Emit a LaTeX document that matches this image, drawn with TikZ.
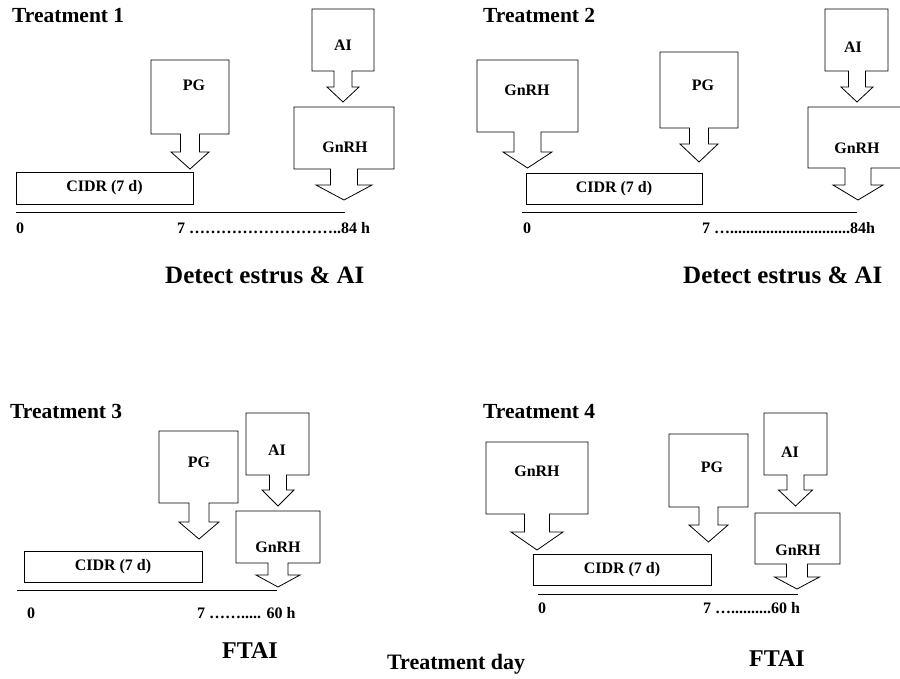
\documentclass[tikz,border=0pt]{standalone}
\usepackage{fontspec}
\setmainfont{Liberation Serif}
\newcommand\dosebox[9]{% cx, left, right, top, bottom, shaft half, head half, shaft bottom, tip
  \draw[outl] (#2,#4) -- (#3,#4) -- (#3,#5) -- ({#1+#6},#5) -- ({#1+#6},#8) -- ({#1+#7},#8) -- (#1,#9)
    -- ({#1-#7},#8) -- ({#1-#6},#8) -- ({#1-#6},#5) -- (#2,#5) -- cycle;}
\tikzset{
  outl/.style={draw=black, line width=0.8pt, line join=miter},
  lbl/.style={font=\fontsize{16}{18}\selectfont\bfseries, inner sep=0pt},
  cidr/.style={draw=black, line width=0.8pt, font=\fontsize{16}{18}\selectfont\bfseries, inner sep=0pt},
  ttl/.style={font=\fontsize{21.5}{23}\selectfont\bfseries, anchor=base west, inner sep=0pt},
  tck/.style={font=\fontsize{16}{18}\selectfont\bfseries, anchor=base west, inner sep=0pt},
  big/.style={font=\fontsize{25}{28}\selectfont\bfseries, anchor=base west, inner sep=0pt},
  tline/.style={draw=black, line width=0.9pt}
}
\begin{document}
\begin{tikzpicture}[x=1pt,y=-1pt]
\useasboundingbox (0,0) rectangle (900,678);
\clip (0,0) rectangle (900,678);
\fill[white] (0,0) rectangle (900,678);

% ---------------- Treatment 1 ----------------
\node[ttl] (t1) at (12,22) {Treatment 1};
\dosebox{190}{151}{229}{60}{134}{9.5}{19}{152}{169}
\node[lbl] (t1pg) at (194,85) {PG};
\dosebox{343}{312}{374}{9}{71}{9}{16}{87}{102}
\node[lbl] (t1ai) at (343,45) {AI};
\dosebox{344}{294}{394}{107}{169}{13.5}{28}{185}{200}
\node[lbl] (t1gn) at (345,147) {GnRH};
\node[cidr, minimum width=177pt, minimum height=32pt] (t1c) at (104.5,188) {CIDR (7 d)};
\coordinate (t1a) at (16,212); \coordinate (t1b) at (345,212);
\draw[tline] (t1a) -- (t1b);
\node[tck] (t1z) at (16,233) {0};
\node[tck] (t1s) at (177,233) {7 ………………………..84 h};
\node[big] (t1d) at (165,283) {Detect estrus \& AI};

% ---------------- Treatment 2 ----------------
\node[ttl] (t2) at (483,22) {Treatment 2};
\dosebox{527.5}{477}{578}{60}{132}{13.5}{24.5}{152}{168}
\node[lbl] (t2g1) at (527,90) {GnRH};
\node[cidr, minimum width=176pt, minimum height=31pt] (t2c) at (614,188.5) {CIDR (7 d)};
\dosebox{699}{660}{738}{52}{128}{9.5}{19}{144}{162}
\node[lbl] (t2pg) at (703,85) {PG};
\dosebox{857}{825}{888}{9}{71}{8.5}{16}{87}{102}
\node[lbl] (t2ai) at (853,47) {AI};
\dosebox{858}{808}{908}{107}{168}{13}{25}{185}{200}
\node[lbl] (t2g2) at (857,148) {GnRH};
\coordinate (t2a) at (522,212); \coordinate (t2b) at (857,212);
\draw[tline] (t2a) -- (t2b);
\node[tck] (t2z) at (523,233) {0};
\node[tck] (t2s) at (702,233) {7 …..............................84h};
\node[big] (t2d) at (683,283) {Detect estrus \& AI};

% ---------------- Treatment 3 ----------------
\node[ttl] (t3) at (10,418) {Treatment 3};
\dosebox{199}{159}{238}{431}{503}{10}{20}{522}{539}
\node[lbl] (t3pg) at (199,462) {PG};
\dosebox{278}{246}{309}{413}{475}{8.5}{16}{490}{506}
\node[lbl] (t3ai) at (277,450) {AI};
\dosebox{278}{236}{320}{511}{563}{10}{22}{575}{587}
\node[lbl] (t3gn) at (278,547) {GnRH};
\node[cidr, minimum width=178pt, minimum height=31pt] (t3c) at (113,566.5) {CIDR (7 d)};
\coordinate (t3a) at (17,590); \coordinate (t3b) at (277,590);
\draw[tline] (t3a) -- (t3b);
\node[tck] (t3z) at (27,618) {0};
\node[tck] (t3s) at (197,618) {7 ……..... 60 h};
\node[big, font=\fontsize{24}{26}\selectfont\bfseries] (t3f) at (222,658) {FTAI};

% ---------------- Treatment 4 ----------------
\node[ttl] (t4) at (483,418) {Treatment 4};
\dosebox{537}{486}{588}{442}{514}{12.5}{26}{532}{550}
\node[lbl] (t4g1) at (537,471) {GnRH};
\node[cidr, minimum width=178pt, minimum height=31pt] (t4c) at (622,569.5) {CIDR (7 d)};
\dosebox{708.5}{669}{748}{434}{507}{9.5}{19.5}{525}{542}
\node[lbl] (t4pg) at (712,467) {PG};
\dosebox{795.5}{764}{827}{413}{475}{8.5}{17}{490}{506}
\node[lbl] (t4ai) at (790,452) {AI};
\dosebox{797}{755}{840}{513}{564}{10.5}{22.5}{577}{589}
\node[lbl] (t4gn) at (798,550) {GnRH};
\coordinate (t4a) at (538,594); \coordinate (t4b) at (798,594);
\draw[tline] (t4a) -- (t4b);
\node[tck] (t4z) at (538,613) {0};
\node[tck] (t4s) at (703,613) {7 …..........60 h};
\node[big, font=\fontsize{24}{26}\selectfont\bfseries] (t4f) at (749,666) {FTAI};

\node[ttl, font=\fontsize{22}{24}\selectfont\bfseries] (tday) at (387,669) {Treatment day};
\end{tikzpicture}
\end{document}
